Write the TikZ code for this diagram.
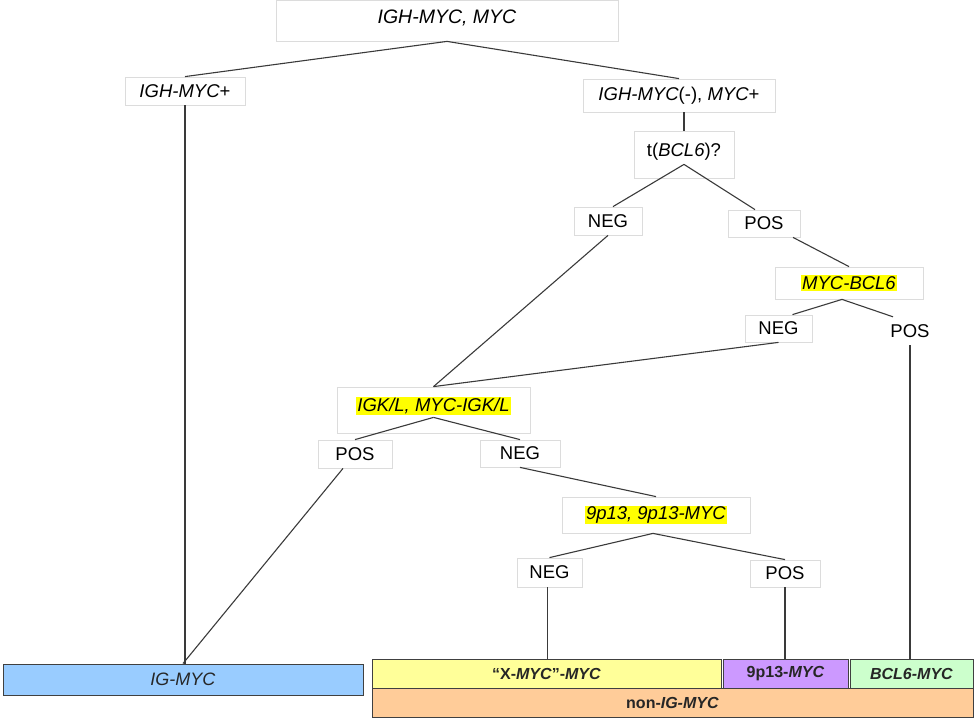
\documentclass[tikz,border=0pt]{standalone}
\usepackage{fontspec}
\setmainfont{Liberation Sans}
\usetikzlibrary{positioning}
\definecolor{boxline}{HTML}{DCDCDC}
\definecolor{conn}{HTML}{3A3A3A}
\definecolor{hl}{HTML}{FFFF00}
\definecolor{igblue}{HTML}{99CCFF}
\definecolor{xyellow}{HTML}{FFFF99}
\definecolor{ppurple}{HTML}{CC99FF}
\definecolor{bgreen}{HTML}{CCFFCC}
\definecolor{norange}{HTML}{FFCC99}
\definecolor{barline}{HTML}{404040}
\newcommand{\hlt}[1]{{\setlength{\fboxsep}{1pt}\colorbox{hl}{#1}}}
\tikzset{
  lbl/.style={draw=boxline, line width=0.8pt, fill=white, inner sep=0pt,
    font=\fontsize{18.5}{21}\selectfont, text=black},
  bare/.style={inner sep=0pt, font=\fontsize{18.5}{21}\selectfont, text=black},
  edge/.style={draw=conn, line width=1.1pt},
  bar/.style={draw=barline, line width=1pt, inner sep=0pt,
    font=\fontsize{16}{19}\selectfont, text=black!85},
  raise/.style={text depth=#1},
}
\begin{document}
\begin{tikzpicture}[x=1pt,y=-1pt]
\useasboundingbox (0,0) rectangle (975,719);
% decision boxes
\node[lbl, minimum width=342, minimum height=41, raise=7pt, font=\fontsize{19.5}{22}\selectfont] (top) at (447,20.5) {\textit{IGH-MYC, MYC}};
\node[lbl, minimum width=120, minimum height=28] (igh) at (185,91) {\textit{IGH-MYC}+};
\node[lbl, minimum width=192, minimum height=33] (ighn) at (679,95.5) {\textit{IGH-MYC}(-), \textit{MYC}+};
\node[lbl, minimum width=100, minimum height=47, raise=10pt] (tb) at (684,154.5) {t(\textit{BCL6})?};
\node[lbl, minimum width=68, minimum height=28] (neg1) at (608,221) {NEG};
\node[lbl, minimum width=72, minimum height=27] (pos1) at (764,223.5) {POS};
\node[lbl, minimum width=148, minimum height=32] (mb) at (849,283) {\hlt{\textit{MYC-BCL6}}};
\node[lbl, minimum width=67, minimum height=27] (neg2) at (778.5,328.5) {NEG};
\node[bare, minimum width=70, minimum height=28] (pos2) at (910,331) {POS};
\node[lbl, minimum width=193, minimum height=46, raise=12pt] (igk) at (433.5,410) {\hlt{\textit{IGK/L, MYC-IGK/L}}};
\node[lbl, minimum width=74, minimum height=28] (posk) at (355,454) {POS};
\node[lbl, minimum width=80, minimum height=27] (negk) at (520,453.5) {NEG};
\node[lbl, minimum width=188, minimum height=36] (p9) at (656,515) {\hlt{\textit{9p13, 9p13-MYC}}};
\node[lbl, minimum width=65, minimum height=29] (neg3) at (549.5,572.5) {NEG};
\node[lbl, minimum width=70, minimum height=27] (pos3) at (785,573.5) {POS};
% result bars
\node[bar, fill=igblue, minimum width=360, minimum height=31, font=\fontsize{18}{20}\selectfont] (igmyc) at (183,679.5) {\textit{IG-MYC}};
\node[bar, fill=xyellow, minimum width=349, minimum height=29] (xmyc) at (546.5,673.5) {\textbf{“X-\textit{MYC}”-\textit{MYC}}};
\node[bar, fill=ppurple, minimum width=125, minimum height=29] (p9myc) at (785.5,673.5) {\textbf{9p13-\textit{MYC}}};
\node[bar, fill=bgreen, minimum width=123, minimum height=29] (bcmyc) at (911.5,673.5) {\textbf{\textit{BCL6-MYC}}};
\node[bar, fill=norange, minimum width=601, minimum height=29] (nonig) at (672.5,702.5) {\textbf{non-\textit{IG-MYC}}};
% connectors
\draw[edge] (top.south) -- (igh.north);
\draw[edge] (top.south) -- (ighn.north);
\draw[edge] (ighn.south -| tb.north) -- (tb.north);
\draw[edge] (igh.south) -- (igh.south |- igmyc.north);
\draw[edge] ([yshift=14pt]tb.south) -- ([xshift=5pt]neg1.north);
\draw[edge] ([yshift=14pt]tb.south) -- ([xshift=-9pt]pos1.north);
\draw[edge] ([xshift=29pt]pos1.south) -- (mb.north);
\draw[edge] ([xshift=-7pt]mb.south) -- ([xshift=14pt]neg2.north);
\draw[edge] ([xshift=-7pt]mb.south) -- ([xshift=-17pt]pos2.north);
\draw[edge] (pos2.south) -- (pos2.south |- bcmyc.north);
\draw[edge] (neg1.south) -- (igk.north);
\draw[edge] (neg2.south) -- (igk.north);
\draw[edge] ([yshift=16pt]igk.south) -- (posk.north);
\draw[edge] ([yshift=16pt]igk.south) -- (negk.north);
\draw[edge] ([xshift=-12pt]posk.south) -- (igmyc.north);
\draw[edge] (negk.south) -- (p9.north);
\draw[edge] ([xshift=-3pt]p9.south) -- (neg3.north);
\draw[edge] ([xshift=-3pt]p9.south) -- (pos3.north);
\draw[edge] ([xshift=-2pt]neg3.south) -- ([xshift=-2pt]neg3.south |- xmyc.north);
\draw[edge] (pos3.south) -- (pos3.south |- p9myc.north);
\end{tikzpicture}
\end{document}
